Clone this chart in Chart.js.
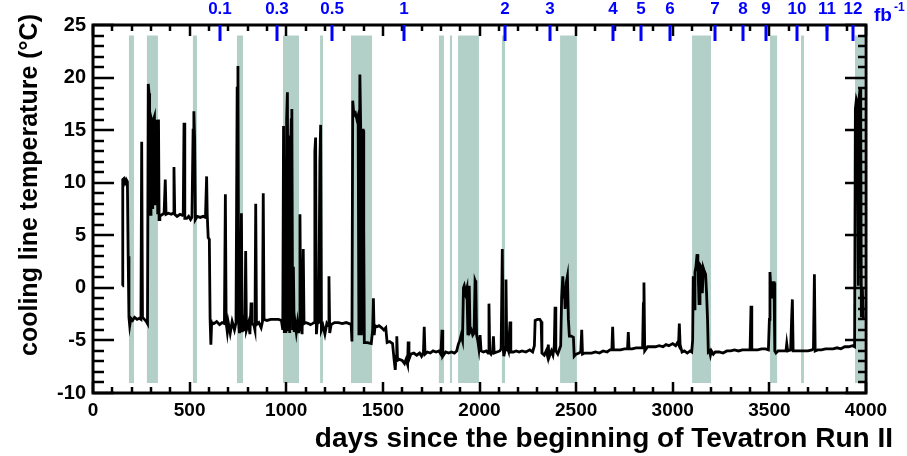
<!DOCTYPE html>
<html>
<head>
<meta charset="utf-8">
<script src="https://cdn.jsdelivr.net/npm/chart.js@4.4.1/dist/chart.umd.min.js"></script>
<style>
html, body { margin: 0; padding: 0; background: #fff; }
</style>
</head>
<body>
<canvas id="myChart" width="907" height="456"></canvas>
<script>
// cooling line temperature vs days since start of Run II
var days = [152,154,160,166,172,178,182,186,190,196,205,215,228,240,248,252,256,266,276,282,
	286,290,293,296,300,305,309,313,318,322,326,331,335,339,342,346,352,360,368,374,
	378,390,405,414,419,423,435,450,462,467,471,475,485,495,505,512,518,522,526,530,
	540,555,570,582,588,591,596,602,606,610,614,625,640,655,668,680,685,689,695,700,
	710,720,732,740,746,750,754,758,763,768,772,780,786,790,794,805,812,818,822,832,
	838,842,846,858,870,877,881,885,900,920,940,960,975,982,986,990,994,998,1002,1006,
	1010,1014,1018,1022,1026,1029,1033,1037,1041,1046,1052,1058,1064,1068,1071,1075,1082,1088,1092,1100,
	1115,1125,1135,1144,1148,1152,1156,1160,1168,1174,1178,1182,1190,1200,1210,1217,1221,1225,1232,1250,
	1270,1290,1310,1325,1336,1340,1344,1350,1358,1366,1372,1376,1381,1385,1389,1393,1398,1401,1404,1420,
	1440,1447,1451,1455,1460,1470,1480,1494,1505,1515,1522,1535,1550,1558,1564,1568,1572,1576,1585,1600,
	1612,1620,1628,1631,1635,1645,1660,1675,1690,1700,1710,1714,1718,1730,1745,1760,1775,1790,1800,1806,
	1810,1825,1840,1855,1870,1882,1890,1898,1905,1912,1917,1921,1928,1935,1940,1947,1951,1958,1965,1972,
	1977,1981,1985,1991,1997,2003,2008,2020,2035,2044,2049,2053,2060,2068,2072,2076,2090,2105,2112,2118,
	2122,2126,2132,2137,2141,2150,2158,2162,2175,2190,2205,2220,2240,2260,2275,2284,2288,2300,2312,2319,
	2323,2335,2345,2352,2356,2360,2372,2380,2387,2391,2395,2405,2420,2425,2431,2436,2440,2443,2449,2455,
	2460,2465,2475,2486,2490,2500,2515,2524,2529,2533,2545,2560,2580,2600,2620,2640,2660,2675,2685,2689,
	2693,2710,2730,2750,2766,2770,2774,2790,2810,2830,2844,2848,2851,2855,2870,2890,2910,2930,2950,2965,
	2980,3000,3015,3025,3030,3034,3038,3048,3060,3075,3090,3098,3103,3106,3110,3115,3120,3126,3130,3136,
	3141,3148,3153,3158,3165,3170,3175,3180,3184,3190,3195,3200,3210,3220,3240,3260,3280,3300,3320,3340,
	3360,3380,3400,3405,3409,3420,3440,3460,3480,3495,3500,3503,3507,3512,3518,3524,3528,3534,3545,3560,
	3575,3586,3590,3595,3610,3615,3619,3623,3640,3660,3680,3700,3720,3728,3733,3737,3750,3770,3790,3810,
	3830,3850,3870,3890,3910,3930,3941,3945,3950,3956,3960,3964,3969,3973,3976,3981,3986];
var temps = [0.2,10.3,10.4,10.0,10.3,10.1,3.0,-2.8,-3.6,-2.9,-3.1,-2.8,-3.0,-2.9,-3.0,13.9,-2.8,-3.0,-3.2,-3.4,
	19.4,18.5,16.0,7.0,16.2,15.8,7.5,16.0,16.3,8.0,16.0,15.5,7.0,16.0,6.5,6.8,6.9,7.0,7.1,10.3,
	7.0,7.1,7.0,7.1,11.5,7.0,6.8,7.0,6.9,7.0,15.7,6.6,6.6,6.8,6.5,6.7,15.0,16.8,14.0,6.5,
	6.8,6.7,6.8,6.7,10.6,7.0,4.8,4.6,-3.0,-5.4,-3.3,-3.4,-3.2,-3.5,-3.3,-3.4,8.9,-3.3,-4.2,-3.3,
	-4.3,-3.2,-4.0,-3.3,19.0,21.1,-3.4,-4.3,-3.3,7.1,-4.2,-3.3,-4.1,3.5,-4.0,-3.3,-4.4,-1.4,-3.4,-3.5,
	-4.0,8.0,-3.5,-3.3,-3.8,-3.2,9.0,-3.0,-3.1,-3.0,-3.0,-3.0,-3.1,-4.0,15.4,-4.3,12.0,-4.3,16.0,18.6,
	-4.0,14.5,-4.3,12.5,16.0,17.0,-4.0,2.0,-4.2,-3.3,-4.2,-3.3,-4.3,-3.2,7.0,-3.5,-4.4,3.7,-3.4,-3.3,
	-3.4,-3.5,-3.4,-3.3,13.0,14.3,-4.4,-3.4,-3.3,12.0,15.5,-4.0,-3.6,-4.4,-3.4,-3.6,1.1,-4.3,-3.5,-3.3,
	-3.3,-3.4,-3.3,-3.4,-3.5,-5.1,17.8,16.4,16.6,16.0,16.4,-4.5,20.3,15.5,-4.5,15.0,15.0,6.0,-5.2,-5.2,
	-5.3,-4.0,-1.0,-4.5,-3.6,-3.7,-3.6,-3.8,-4.0,-3.8,-5.2,-5.1,-5.3,-6.8,-7.8,-6.5,-4.6,-6.9,-6.8,-6.9,
	-7.2,-6.8,-7.3,-5.1,-6.8,-6.3,-6.2,-6.4,-6.2,-6.5,-6.1,-3.7,-6.3,-6.1,-6.2,-6.0,-6.1,-6.0,-6.3,-4.0,
	-6.5,-6.1,-6.2,-6.1,-6.2,-6.0,-5.4,-5.0,-4.5,-5.0,0.0,0.2,-0.5,0.0,-4.5,0.2,-4.2,-4.0,-4.5,-4.3,
	0.7,0.5,-4.5,-5.0,-5.8,-4.5,-6.0,-6.1,-6.0,-6.2,-1.5,-6.1,-6.3,-6.0,-4.6,-6.2,-6.1,-6.0,-5.8,3.7,
	-5.6,-6.5,-5.9,0.8,-5.5,-6.0,-3.2,-6.1,-6.1,-6.0,-6.1,-6.0,-6.1,-5.9,-6.1,-5.5,-3.1,-3.0,-3.0,-3.2,
	-6.2,-6.4,-6.0,-6.5,-5.4,-6.6,-6.0,-6.4,-5.5,-1.8,-6.0,-6.3,-5.5,-1.0,1.1,-1.0,-0.5,-2.0,0.5,1.1,
	-3.0,-4.6,-4.6,-4.7,-6.5,-6.3,-6.2,-6.1,-4.0,-6.3,-6.2,-6.2,-6.2,-6.1,-6.2,-6.0,-6.1,-5.9,-5.9,-3.7,
	-5.9,-5.9,-5.9,-5.8,-5.8,-4.2,-5.8,-5.8,-5.7,-5.7,-5.7,-1.5,0.5,-6.0,-5.6,-5.6,-5.6,-5.5,-5.6,-5.4,
	-5.5,-5.3,-5.5,-5.2,-5.4,-3.4,-5.4,-6.1,-6.0,-6.2,-6.0,-6.1,-5.0,1.1,-2.0,1.5,2.0,3.2,2.5,-1.5,
	2.2,2.0,-0.5,1.9,1.5,1.3,-0.5,-3.0,-6.1,-6.0,-6.4,-6.0,-6.3,-6.1,-6.1,-6.2,-6.0,-6.0,-5.9,-6.0,
	-5.9,-5.9,-5.9,-1.7,-5.9,-5.9,-5.9,-5.8,-5.8,-5.9,-3.0,1.5,0.0,-1.0,0.5,0.5,-6.0,-6.2,-6.0,-6.0,
	-6.0,-6.0,-5.3,-6.0,-5.9,-3.0,-1.1,-6.0,-6.0,-6.0,-6.0,-6.0,-5.9,-5.8,1.3,-6.0,-5.9,-5.9,-5.8,-5.8,
	-5.8,-5.7,-5.8,-5.6,-5.6,-5.5,-5.6,17.0,17.9,17.5,0.2,18.0,18.9,15.0,-2.8,0.0,-3.0];

// shaded periods (days)
var bandStart = [186,279,517,745,983,1175,1335,1790,1847,1889,2116,2417,3100,3503,3664,3943];
var bandEnd   = [212,336,538,776,1066,1190,1444,1816,1858,1997,2132,2504,3198,3540,3679,3990];

// integrated luminosity marks on the top axis
var lumiDays   = [657,952,1237,1609,2132,2365,2691,2836,2986,3219,3364,3483,3643,3798,3933];
var lumiLabels = ['0.1','0.3','0.5','1','2','3','4','5','6','7','8','9','10','11','12'];

var points = days.map(function (d, i) { return {x: d, y: temps[i]}; });

var FONT = '"Liberation Sans", Arial, Helvetica, sans-serif';

var rootFrame = {
	id: 'rootFrame',
	beforeDatasetsDraw: function (chart) {
		var ctx = chart.ctx, xs = chart.scales.x, ys = chart.scales.y;
		var top = ys.getPixelForValue(24), bot = ys.getPixelForValue(-9.05);
		ctx.save();
		ctx.fillStyle = 'rgb(178,208,200)';
		for (var i = 0; i < bandStart.length; i++) {
			var a = xs.getPixelForValue(bandStart[i]);
			var b = xs.getPixelForValue(bandEnd[i]);
			ctx.fillRect(a, top, b - a, bot - top);
		}
		ctx.restore();
	},
	afterDatasetsDraw: function (chart) {
		var ctx = chart.ctx, a = chart.chartArea;
		var xs = chart.scales.x, ys = chart.scales.y, x2 = chart.scales.x2;
		var v, p, len;
		ctx.save();
		ctx.strokeStyle = '#000';
		ctx.lineWidth = 2.5;
		ctx.beginPath();
		for (v = 0; v <= 4000; v += 100) {
			p = Math.round(xs.getPixelForValue(v));
			len = (v % 500 === 0) ? 11 : 6;
			ctx.moveTo(p, a.bottom); ctx.lineTo(p, a.bottom - len);
			ctx.moveTo(p, a.top); ctx.lineTo(p, a.top + len);
		}
		for (v = -10; v <= 25; v += 1) {
			p = Math.round(ys.getPixelForValue(v));
			ctx.moveTo(a.left, p); ctx.lineTo(a.left + ((v % 5 === 0) ? 21 : 11), p);
			ctx.moveTo(a.right, p); ctx.lineTo(a.right - ((v % 5 === 0) ? 21 : 8), p);
		}
		ctx.stroke();
		ctx.lineWidth = 3;
		ctx.strokeRect(a.left, a.top, a.right - a.left, a.bottom - a.top);
		// blue luminosity ticks
		ctx.strokeStyle = '#0000ff';
		ctx.lineWidth = 3;
		ctx.beginPath();
		lumiDays.forEach(function (d) {
			var px = Math.round(x2.getPixelForValue(d));
			ctx.moveTo(px, a.top); ctx.lineTo(px, a.top + 16);
		});
		ctx.stroke();
		ctx.restore();
	},
	afterDraw: function (chart) {
		var ctx = chart.ctx, a = chart.chartArea;
		ctx.save();
		ctx.fillStyle = '#000';
		ctx.font = 'bold 28px ' + FONT;
		ctx.textAlign = 'right';
		ctx.textBaseline = 'alphabetic';
		ctx.fillText('days since the beginning of Tevatron Run II', 893, 447);
		ctx.font = 'bold 25px ' + FONT;
		ctx.translate(37, a.top - 11);
		ctx.rotate(-Math.PI / 2);
		ctx.fillText('cooling line temperature (\u00B0C)', 0, 0);
		ctx.restore();
		ctx.save();
		ctx.fillStyle = '#0000ff';
		ctx.font = 'bold 19px ' + FONT;
		ctx.textBaseline = 'alphabetic';
		ctx.textAlign = 'left';
		ctx.fillText('fb', 874, 21);
		ctx.font = 'bold 12px ' + FONT;
		ctx.fillText('-1', 894, 11);
		ctx.restore();
	}
};

var ctx = document.getElementById('myChart').getContext('2d');

var tempChart = new Chart(ctx, {
	type: 'line',
	data: {
		datasets: [{
			data: points,
			borderColor: '#000',
			borderWidth: 2.8,
			pointRadius: 0,
			tension: 0,
			fill: false
		}]
	},
	options: {
		responsive: false,
		animation: false,
		devicePixelRatio: 1,
		layout: { padding: { left: 0, right: 41, top: 0, bottom: 0 } },
		plugins: { legend: { display: false }, tooltip: { enabled: false } },
		scales: {
			x: {
				type: 'linear', position: 'bottom', min: 0, max: 4000,
				grid: { display: false, drawTicks: false },
				border: { display: false },
				ticks: { stepSize: 500, padding: 6, maxRotation: 0, autoSkip: false,
					color: '#000', font: { family: FONT, size: 19, weight: 'bold' },
					callback: function (v) { return String(v); } },
				afterFit: function (s) { s.height = 63; }
			},
			x2: {
				type: 'linear', position: 'top', min: 0, max: 4000,
				grid: { display: false, drawTicks: false },
				border: { display: false },
				afterBuildTicks: function (s) {
					s.ticks = lumiDays.map(function (d) { return {value: d}; });
				},
				ticks: { autoSkip: false, maxRotation: 0, padding: 5, color: '#0000ff',
					font: { family: FONT, size: 17, weight: 'bold' },
					callback: function (v, i) { return lumiLabels[i]; } },
				afterFit: function (s) { s.height = 25; }
			},
			y: {
				type: 'linear', min: -10, max: 25,
				grid: { display: false, drawTicks: false },
				border: { display: false },
				ticks: { stepSize: 5, padding: 7, color: '#000',
					font: { family: FONT, size: 20, weight: 'bold' },
					callback: function (v) { return String(v); } },
				afterFit: function (s) { s.width = 93; }
			}
		}
	},
	plugins: [rootFrame]
});
</script>
</body>
</html>
